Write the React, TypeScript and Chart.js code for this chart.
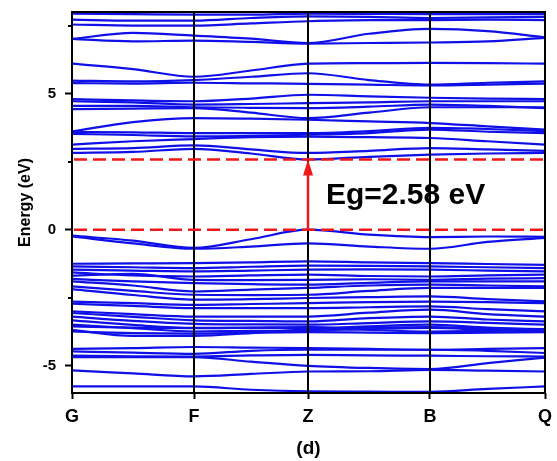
import { useEffect, useRef } from 'react';
import { Chart, registerables } from 'chart.js';

Chart.register(...registerables);

// High-symmetry path
const kLabels = ['G', 'F', 'Z', 'B', 'Q'];
const kTicks = [0, 1.22, 2.36, 3.58, 4.73];
// sample k positions: G, G-F, F, F-Z, Z, Z-B, B, B-Q, Q
const kPath = [0, 0.61, 1.22, 1.79, 2.36, 2.97, 3.58, 4.155, 4.73];

const energyTicks = [-5, 0, 5];
const energyMinorTicks = [-2.5, 2.5, 7.5];
const energyMin = -6;
const energyMax = 8;

const vbm = 0;
const cbm = 2.58;
const gapLabel = 'Eg=2.58 eV';

// Conduction bands (eV)
const cb01 = [2.82, 2.86, 2.97, 2.8, 2.58, 2.68, 2.76, 2.8, 2.82];
const cb02 = [2.97, 3.0, 3.1, 2.95, 2.82, 2.9, 3.0, 2.95, 2.9];
const cb03 = [3.13, 3.25, 3.33, 3.4, 3.42, 3.4, 3.37, 3.25, 3.13];
const cb04 = [3.52, 3.48, 3.43, 3.45, 3.49, 3.55, 3.68, 3.6, 3.55];
const cb05 = [3.59, 3.58, 3.55, 3.55, 3.55, 3.62, 3.74, 3.7, 3.62];
const cb06 = [3.61, 3.95, 4.1, 4.08, 4.04, 3.98, 3.92, 3.8, 3.68];
const cb07 = [4.43, 4.45, 4.47, 4.3, 4.1, 4.3, 4.5, 4.5, 4.5];
const cb08 = [4.55, 4.55, 4.5, 4.48, 4.47, 4.52, 4.6, 4.55, 4.47];
const cb09 = [4.72, 4.68, 4.6, 4.62, 4.65, 4.68, 4.72, 4.72, 4.72];
const cb10 = [4.8, 4.75, 4.72, 4.82, 4.96, 4.9, 4.85, 4.82, 4.8];
const cb11 = [5.39, 5.37, 5.4, 5.38, 5.36, 5.33, 5.3, 5.33, 5.37];
const cb12 = [5.48, 5.45, 5.5, 5.62, 5.75, 5.5, 5.33, 5.4, 5.45];
const cb13 = [6.1, 5.9, 5.62, 5.85, 6.1, 6.12, 6.13, 6.12, 6.1];
const cb14 = [7.01, 6.92, 6.95, 6.9, 6.84, 6.86, 6.88, 6.92, 7.05];
const cb15 = [7.01, 7.23, 7.13, 7.02, 6.86, 7.2, 7.38, 7.3, 7.07];
const cb16 = [7.54, 7.5, 7.5, 7.58, 7.66, 7.7, 7.7, 7.72, 7.7];
const cb17 = [7.72, 7.68, 7.68, 7.78, 7.84, 7.82, 7.78, 7.8, 7.82];
const cb18 = [7.94, 7.92, 7.9, 7.9, 7.94, 7.93, 7.92, 7.92, 7.92];

// Valence bands (eV)
const vb01 = [-0.22, -0.4, -0.67, -0.35, 0.0, -0.18, -0.27, -0.25, -0.26];
const vb02 = [-0.25, -0.5, -0.7, -0.62, -0.5, -0.62, -0.7, -0.45, -0.3];
const vb03 = [-1.25, -1.24, -1.23, -1.2, -1.16, -1.2, -1.23, -1.26, -1.29];
const vb04 = [-1.35, -1.38, -1.41, -1.36, -1.32, -1.33, -1.35, -1.38, -1.41];
const vb05 = [-1.47, -1.5, -1.53, -1.5, -1.47, -1.46, -1.47, -1.5, -1.53];
const vb06 = [-1.57, -1.68, -1.72, -1.68, -1.65, -1.7, -1.72, -1.68, -1.65];
const vb07 = [-1.69, -1.62, -1.84, -1.85, -1.84, -1.82, -1.84, -1.8, -1.78];
const vb08 = [-1.81, -1.9, -1.96, -2.0, -2.02, -1.95, -1.9, -1.9, -1.9];
const vb09 = [-1.9, -2.05, -2.27, -2.2, -2.14, -2.05, -2.02, -2.05, -2.08];
const vb10 = [-2.08, -2.25, -2.39, -2.4, -2.39, -2.25, -2.14, -2.14, -2.14];
const vb11 = [-2.18, -2.4, -2.57, -2.55, -2.51, -2.48, -2.45, -2.55, -2.63];
const vb12 = [-2.64, -2.7, -2.76, -2.73, -2.7, -2.66, -2.64, -2.66, -2.7];
const vb13 = [-2.72, -2.8, -2.88, -2.88, -2.88, -2.85, -2.82, -2.92, -3.0];
const vb14 = [-3.0, -3.1, -3.19, -3.19, -3.19, -3.05, -2.94, -3.1, -3.19];
const vb15 = [-3.06, -3.2, -3.33, -3.35, -3.37, -3.25, -3.19, -3.3, -3.37];
const vb16 = [-3.19, -3.35, -3.46, -3.48, -3.49, -3.43, -3.37, -3.42, -3.49];
const vb17 = [-3.33, -3.5, -3.61, -3.61, -3.61, -3.55, -3.49, -3.6, -3.68];
const vb18 = [-3.49, -3.62, -3.74, -3.72, -3.71, -3.65, -3.61, -3.68, -3.74];
const vb19 = [-3.55, -3.6, -3.62, -3.6, -3.58, -3.68, -3.74, -3.72, -3.7];
const vb20 = [-3.68, -3.9, -3.9, -3.8, -3.66, -3.6, -3.58, -3.62, -3.65];
const vb21 = [-3.74, -3.8, -3.82, -3.78, -3.76, -3.78, -3.8, -3.78, -3.76];
const vb22 = [-4.38, -4.35, -4.31, -4.33, -4.35, -4.38, -4.41, -4.38, -4.35];
const vb23 = [-4.47, -4.52, -4.56, -4.45, -4.41, -4.41, -4.41, -4.45, -4.53];
const vb24 = [-4.63, -4.65, -4.66, -4.62, -4.6, -4.62, -4.63, -4.65, -4.66];
const vb25 = [-4.68, -4.68, -4.68, -4.85, -5.0, -5.08, -5.12, -4.9, -4.7];
const vb26 = [-5.17, -5.28, -5.39, -5.3, -5.21, -5.2, -5.15, -5.18, -5.21];
const vb27 = [-5.76, -5.76, -5.76, -5.88, -5.94, -5.95, -5.96, -5.85, -5.76];

const bands = [
  cb01, cb02, cb03, cb04, cb05, cb06, cb07, cb08, cb09, cb10, cb11, cb12, cb13, cb14, cb15, cb16, cb17, cb18,
  vb01, vb02, vb03, vb04, vb05, vb06, vb07, vb08, vb09, vb10, vb11, vb12, vb13, vb14, vb15, vb16, vb17, vb18,
  vb19, vb20, vb21, vb22, vb23, vb24, vb25, vb26, vb27,
];

const BLUE = '#0f0fe8';
const RED = '#f01818';
const FONT = '"Liberation Sans", Arial, Helvetica, sans-serif';

const overlay = {
  id: 'overlay',
  afterDatasetsDraw(chart: any) {
    const { ctx, chartArea: a, scales } = chart;
    const x = scales.x;
    const y = scales.y;
    ctx.save();
    // vertical high-symmetry lines
    ctx.strokeStyle = '#000';
    ctx.lineWidth = 2;
    kTicks.slice(1, -1).forEach((k) => {
      const px = Math.round(x.getPixelForValue(k));
      ctx.beginPath();
      ctx.moveTo(px, a.top);
      ctx.lineTo(px, a.bottom);
      ctx.stroke();
    });
    // band edges (dashed)
    ctx.strokeStyle = RED;
    ctx.lineWidth = 2.5;
    ctx.setLineDash([13, 6]);
    [vbm, cbm].forEach((e) => {
      const py = y.getPixelForValue(e);
      ctx.beginPath();
      ctx.moveTo(a.left + 2, py);
      ctx.lineTo(a.right, py);
      ctx.stroke();
    });
    ctx.setLineDash([]);
    // arrow at Z
    const ax = Math.round(x.getPixelForValue(kTicks[2]));
    const y0 = y.getPixelForValue(vbm);
    const y1 = y.getPixelForValue(cbm);
    ctx.lineWidth = 2.5;
    ctx.beginPath();
    ctx.moveTo(ax, y0);
    ctx.lineTo(ax, y1 + 12);
    ctx.stroke();
    ctx.fillStyle = RED;
    ctx.beginPath();
    ctx.moveTo(ax, y1);
    ctx.lineTo(ax - 5, y1 + 16);
    ctx.lineTo(ax + 5, y1 + 16);
    ctx.closePath();
    ctx.fill();
    // gap label
    ctx.fillStyle = '#000';
    ctx.font = `bold 30px ${FONT}`;
    ctx.textAlign = 'left';
    ctx.textBaseline = 'alphabetic';
    ctx.fillText(gapLabel, ax + 18, (y0 + y1) / 2 + 9);
    // frame
    ctx.strokeStyle = '#000';
    ctx.lineWidth = 2;
    ctx.strokeRect(a.left, a.top, a.right - a.left, a.bottom - a.top);
    // minor y ticks
    energyMinorTicks.forEach((v) => {
      const py = Math.round(y.getPixelForValue(v));
      ctx.beginPath();
      ctx.moveTo(a.left - 4, py);
      ctx.lineTo(a.left, py);
      ctx.stroke();
    });
    ctx.restore();
  },
};

export default function App() {
  const ref = useRef<HTMLCanvasElement>(null);
  useEffect(() => {
    if (!ref.current) return;
    Chart.defaults.font.family = FONT;
    const chart = new Chart(ref.current, {
      type: 'line',
      data: {
        datasets: bands.map((b) => ({
          data: b.map((e, i) => ({ x: kPath[i], y: e })),
          borderColor: BLUE,
          borderWidth: 2.2,
          pointRadius: 0,
          cubicInterpolationMode: 'monotone' as const,
          fill: false,
        })),
      },
      options: {
        responsive: false,
        animation: false,
        events: [],
        layout: { padding: { top: 12, right: 12, left: 0, bottom: 0 } },
        plugins: { legend: { display: false }, tooltip: { enabled: false } },
        scales: {
          x: {
            type: 'linear',
            min: kTicks[0],
            max: kTicks[kTicks.length - 1],
            afterBuildTicks: (s: any) => {
              s.ticks = kTicks.map((v) => ({ value: v }));
            },
            afterFit: (s: any) => {
              s.height = 68;
              s.paddingLeft = 0;
              s.paddingRight = 0;
            },
            ticks: {
              autoSkip: false,
              maxRotation: 0,
              padding: 7,
              color: '#000',
              font: { size: 18, weight: 'bold' },
              callback: (v: any) => {
                const i = kTicks.indexOf(Number(v));
                return i >= 0 ? kLabels[i] : '';
              },
            },
            grid: {
              drawOnChartArea: false,
              drawTicks: true,
              tickLength: 6,
              tickColor: '#000',
              tickWidth: 2,
            },
            border: { display: false },
            title: {
              display: true,
              text: '(d)',
              color: '#000',
              font: { size: 19, weight: 'bold' },
              padding: { top: 0, bottom: 1 },
            },
          },
          y: {
            type: 'linear',
            min: energyMin,
            max: energyMax,
            afterBuildTicks: (s: any) => {
              s.ticks = energyTicks.map((v) => ({ value: v }));
            },
            afterFit: (s: any) => {
              s.width = 72;
              s.paddingTop = 0;
              s.paddingBottom = 0;
            },
            ticks: {
              autoSkip: false,
              padding: 9,
              color: '#000',
              font: { size: 15, weight: 'bold' },
              callback: (v: any) => String(v),
            },
            grid: {
              drawOnChartArea: false,
              drawTicks: true,
              tickLength: 7,
              tickWidth: 2,
              tickColor: '#000',
            },
            border: { display: false },
            title: {
              display: true,
              text: 'Energy (eV)',
              color: '#000',
              font: { size: 16, weight: 'bold' },
              padding: { top: 16, bottom: 0 },
            },
          },
        },
      },
      plugins: [overlay],
    });
    return () => chart.destroy();
  }, []);
  return (
    <div style={{ position: 'absolute', left: 0, top: 0, width: 557, height: 461, background: '#fff' }}>
      <canvas ref={ref} width={557} height={461} />
    </div>
  );
}
